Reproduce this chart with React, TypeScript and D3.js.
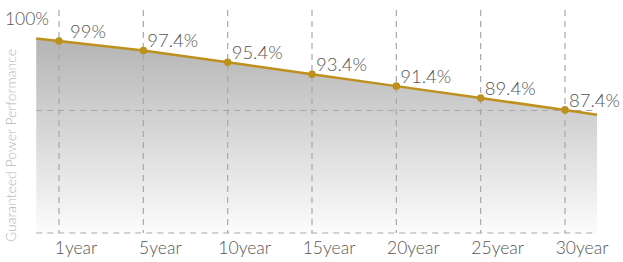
import React, { useRef, useEffect } from 'react';
import * as d3 from 'd3';

const years = ['1year', '5year', '10year', '15year', '20year', '25year', '30year'];
const performance = [99, 97.4, 95.4, 93.4, 91.4, 89.4, 87.4];
const valueLabels = ['99%', '97.4%', '95.4%', '93.4%', '91.4%', '89.4%', '87.4%'];
// the shaded band runs a little past the first and last year
const edgeIndex = [-0.27, 6.38];
const edgeValues = [99.4, 86.6];
const gridValues = [87.3];
const topLabel = '100%';
const axisTitle = 'Guaranteed Power Performance';

const W = 623;
const H = 262;
const GOLD = '#BE911E';
const FONT = 'Lato, "Open Sans", sans-serif';

const App: React.FC = () => {
    const ref = useRef<SVGSVGElement | null>(null);

    useEffect(() => {
        if (!ref.current) return;
        const svg = d3.select(ref.current);
        svg.selectAll('*').remove();

        const x = d3.scaleLinear().domain([0, years.length - 1]).range([59, 565]);
        const y = d3.scaleLinear().domain([66.7, 100]).range([233, 35]);
        const yBottom = y.range()[0];

        // ─── gradient ───
        const defs = svg.append('defs');
        const grad = defs.append('linearGradient')
            .attr('id', 'fade')
            .attr('x1', 0).attr('y1', 0).attr('x2', 0).attr('y2', 1);
        grad.append('stop').attr('offset', '0%').attr('stop-color', '#b4b4b4');
        grad.append('stop').attr('offset', '100%').attr('stop-color', '#fcfcfc');

        const pts: [number, number][] = [
            [edgeIndex[0], edgeValues[0]],
            ...performance.map((v, i) => [i, v] as [number, number]),
            [edgeIndex[1], edgeValues[1]],
        ];

        const area = d3.area<[number, number]>()
            .x(d => x(d[0]))
            .y0(yBottom)
            .y1(d => y(d[1]));
        svg.append('path')
            .attr('d', area(pts) as string)
            .attr('fill', 'url(#fade)');

        // ─── grid ───
        const dash = '6,5';
        svg.append('g').selectAll('line.v')
            .data(years)
            .enter()
            .append('line')
            .attr('x1', (_, i) => x(i)).attr('x2', (_, i) => x(i))
            .attr('y1', 10).attr('y2', yBottom)
            .attr('stroke', '#a8a8a8')
            .attr('stroke-width', 1.2)
            .attr('stroke-dasharray', dash);

        svg.append('g').selectAll('line.h')
            .data([...gridValues, y.domain()[0]])
            .enter()
            .append('line')
            .attr('x1', x(edgeIndex[0])).attr('x2', x(edgeIndex[1]))
            .attr('y1', d => y(d)).attr('y2', d => y(d))
            .attr('stroke', '#a8a8a8')
            .attr('stroke-width', 1.2)
            .attr('stroke-dasharray', dash);

        // ─── line + dots ───
        const line = d3.line<[number, number]>()
            .x(d => x(d[0]))
            .y(d => y(d[1]));
        svg.append('path')
            .attr('d', line(pts) as string)
            .attr('fill', 'none')
            .attr('stroke', GOLD)
            .attr('stroke-width', 2.5);

        svg.append('g').selectAll('circle')
            .data(performance)
            .enter()
            .append('circle')
            .attr('cx', (_, i) => x(i))
            .attr('cy', d => y(d))
            .attr('r', 3.8)
            .attr('fill', GOLD);

        // ─── value labels ───
        svg.append('g').selectAll('text')
            .data(performance)
            .enter()
            .append('text')
            .attr('x', (_, i) => x(i) + (i === 0 ? 11 : 4))
            .attr('y', d => y(d) - 3)
            .attr('fill', '#555')
            .style('font-family', FONT)
            .style('font-weight', 300)
            .style('font-size', '18.5px')
            .text((_, i) => valueLabels[i]);

        // ─── x tick labels ───
        svg.append('g').selectAll('text')
            .data(years)
            .enter()
            .append('text')
            .attr('x', (_, i) => x(i) + 17)
            .attr('y', 254)
            .attr('text-anchor', 'middle')
            .attr('fill', '#555')
            .style('font-family', FONT)
            .style('font-weight', 300)
            .style('font-size', '17.5px')
            .text(d => d);

        // ─── top label + axis title ───
        svg.append('text')
            .attr('x', 49)
            .attr('y', 25)
            .attr('text-anchor', 'end')
            .attr('fill', '#555')
            .style('font-family', FONT)
            .style('font-weight', 300)
            .style('font-size', '17.5px')
            .text(topLabel);

        svg.append('text')
            .attr('transform', `translate(16,145.5) rotate(-90)`)
            .attr('text-anchor', 'middle')
            .attr('fill', '#b5b5b5')
            .style('font-family', FONT)
            .style('font-weight', 300)
            .style('font-size', '14px')
            .text(axisTitle);
    }, []);

    return (
        <svg
            ref={ref}
            width={W}
            height={H}
            style={{ position: 'absolute', left: 0, top: 0, background: '#fff' }}
        />
    );
};

export default App;
